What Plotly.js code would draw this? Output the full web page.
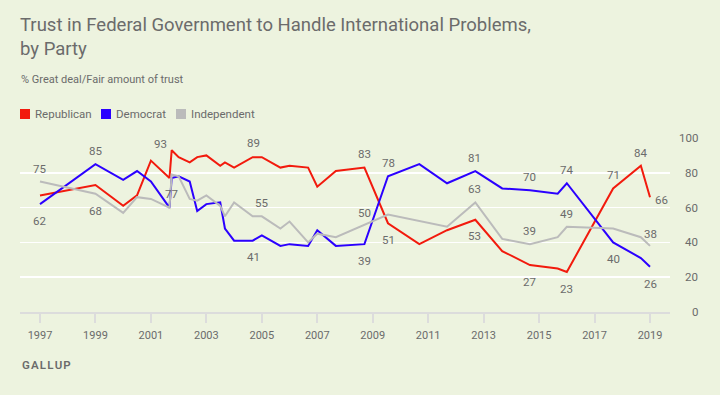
<!DOCTYPE html>
<html>
<head>
<meta charset="utf-8">
<script src="https://cdn.plot.ly/plotly-3.0.1.min.js"></script>
<style>
  html, body { margin: 0; padding: 0; background: #edf3df; }
  #chart { width: 720px; height: 395px; }
</style>
</head>
<body>
<div id="chart"></div>
<script>
// ---- Data ----
const years = [1997, 1999, 2000, 2000.5, 2001, 2001.67, 2001.75, 2002, 2002.4, 2002.67,
  2003, 2003.5, 2003.67, 2004, 2004.67, 2005, 2005.67, 2006, 2006.67, 2007,
  2007.67, 2008.7, 2009.55, 2010.68, 2011.68, 2012.7, 2013.67, 2014.67, 2015.67, 2016,
  2017.67, 2018.67, 2019];
const republican = [67, 73, 61, 67, 87, 77, 93, 89, 86, 89,
  90, 84, 86, 83, 89, 89, 83, 84, 83, 72,
  81, 83, 51, 39, 47, 53, 35, 27, 25, 23,
  71, 84, 66];
const democrat = [62, 85, 76, 81, 75, 60, 77, 78, 75, 58,
  62, 63, 48, 41, 41, 44, 38, 39, 38, 47,
  38, 39, 78, 85, 74, 81, 71, 70, 68, 74,
  40, 31, 26];
const independent = [75, 68, 57, 66, 65, 60, 79, 78, 65, 64,
  67, 61, 55, 63, 55, 55, 48, 52, 40, 45,
  43, 50, 56, null, 49, 63, 42, 39, 43, 49,
  48, 43, 38];
const seriesNames = ["Republican", "Democrat", "Independent"];
const xTickVals = [1997, 1999, 2001, 2003, 2005, 2007, 2009, 2011, 2013, 2015, 2017, 2019];
const yTickVals = [0, 20, 40, 60, 80, 100];

// ---- Styling ----
const colors = { Republican: "#f21a0d", Democrat: "#2b00ff", Independent: "#bbbbbb" };
const seriesData = { Republican: republican, Democrat: democrat, Independent: independent };
const textColor = "#6b6b6b";
const bg = "#edf3df";
const fontFam = "Roboto, 'Liberation Sans', sans-serif";

// Which points carry a value label: [series, year, xshift, yshift]
const labelSpec = [
  ["Independent", 1997, 0, 13], ["Democrat", 1997, 0, -17],
  ["Democrat", 1999, 0, 13], ["Independent", 1999, 0, -17],
  ["Republican", 2001.75, -11, 6], ["Republican", 2001.67, 2, -16],
  ["Republican", 2004.67, 1, 14], ["Independent", 2005, 0, 13], ["Democrat", 2004.67, 1, -16],
  ["Republican", 2008.7, 0, 14], ["Independent", 2008.7, 0, 12], ["Democrat", 2008.7, 0, -17],
  ["Democrat", 2009.55, 1, 13], ["Republican", 2009.55, 1, -17],
  ["Democrat", 2012.7, -1, 13], ["Independent", 2012.7, -1, 13], ["Republican", 2012.7, -1, -16],
  ["Democrat", 2014.67, 0, 13], ["Independent", 2014.67, 0, 13], ["Republican", 2014.67, 0, -17],
  ["Democrat", 2016, 0, 13], ["Independent", 2016, 0, 13], ["Republican", 2016, 0, -17],
  ["Republican", 2017.67, 0, 13], ["Democrat", 2017.67, 0, -17],
  ["Republican", 2018.67, 0, 13],
  ["Independent", 2019, 0, 12], ["Republican", 2019, 11, -3], ["Democrat", 2019, 0, -17]
];

const traces = seriesNames.map(name => ({
  type: "scatter", mode: "lines", name: name,
  x: years, y: seriesData[name], connectgaps: true,
  line: { color: colors[name], width: 2 },
  hoverinfo: "skip", showlegend: false
}));

const annotations = [];
labelSpec.forEach(([name, yr, dx, dy]) => {
  const i = years.indexOf(yr);
  const v = seriesData[name][i];
  annotations.push({
    x: yr, y: v, xref: "x", yref: "y", text: String(v), showarrow: false,
    xanchor: "center", yanchor: "middle", xshift: dx, yshift: dy,
    font: { family: fontFam, size: 11.5, color: textColor }
  });
});
// right-side y tick labels (right aligned)
yTickVals.forEach(v => {
  annotations.push({
    x: 1, y: v, xref: "paper", yref: "y", text: String(v), showarrow: false,
    xanchor: "right", yanchor: "middle", xshift: 30,
    font: { family: fontFam, size: 11.5, color: textColor }
  });
});
// subtitle
annotations.push({
  x: 0, y: 1.339, xref: "paper", yref: "paper", text: "% Great deal/Fair amount of trust",
  showarrow: false, xanchor: "left", yanchor: "middle", xshift: -1,
  font: { family: fontFam, size: 11, color: textColor }
});
// source
annotations.push({
  x: 0, y: -0.305, xref: "paper", yref: "paper", text: "G\u200AA\u200AL\u200AL\u200AU\u200AP",
  showarrow: false, xanchor: "left", yanchor: "middle",
  font: { family: fontFam, size: 11.5, color: textColor, weight: 600 }
});

// legend (squares + names)
const shapes = [];
const legendX = [0, 81, 156]; // pixel offsets from plot left
seriesNames.forEach((name, k) => {
  const x0 = legendX[k] / 650;
  shapes.push({
    type: "rect", xref: "paper", yref: "paper",
    x0: x0, x1: x0 + 10 / 650, y0: (312 - 119) / 174, y1: (312 - 109) / 174,
    fillcolor: colors[name], line: { width: 0 }
  });
  annotations.push({
    x: x0 + 15 / 650, y: (312 - 114) / 174, xref: "paper", yref: "paper", text: name,
    showarrow: false, xanchor: "left", yanchor: "middle", xshift: -2,
    font: { family: fontFam, size: 11.5, color: textColor }
  });
});

const layout = {
  width: 720, height: 395,
  paper_bgcolor: bg, plot_bgcolor: bg,
  margin: { l: 20, r: 50, t: 138, b: 83 },
  font: { family: fontFam, color: textColor },
  title: {
    text: "Trust in Federal Government to Handle International Problems,<br>by Party",
    x: 20 / 720, xanchor: "left", xref: "container",
    y: 1 - 31 / 395, yanchor: "top", yref: "container",
    font: { family: fontFam, size: 18.5, color: textColor }
  },
  xaxis: {
    range: [1996.279, 2019.721], tickvals: xTickVals, ticktext: xTickVals.map(String),
    showgrid: false, zeroline: false, showline: true, linecolor: "#dcdcdc", linewidth: 2,
    ticks: "outside", ticklen: 9, tickwidth: 2, tickcolor: "#dcdcdc", ticklabelstandoff: 3,
    tickfont: { family: fontFam, size: 11, color: textColor }, fixedrange: true
  },
  yaxis: {
    range: [0, 100], tickvals: [20, 40, 60, 80, 100], showticklabels: false,
    showgrid: true, gridcolor: "#ffffff", gridwidth: 1.5, zeroline: false, ticks: "",
    fixedrange: true
  },
  showlegend: false,
  annotations: annotations,
  shapes: shapes
};

Plotly.newPlot("chart", traces, layout, { displayModeBar: false, staticPlot: true });
</script>
</body>
</html>
